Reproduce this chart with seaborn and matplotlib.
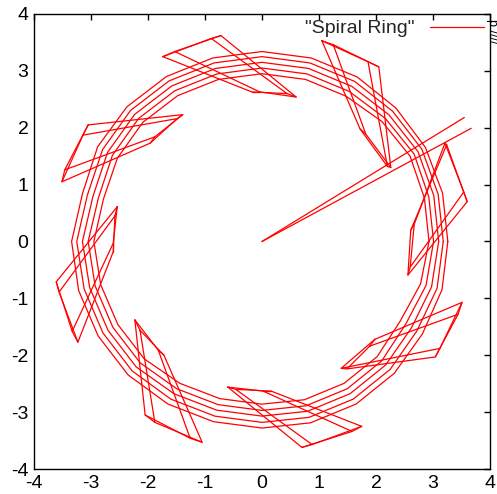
import numpy as np
import pandas as pd
import matplotlib
matplotlib.use("Agg")
import matplotlib.pyplot as plt
import seaborn as sns
from matplotlib.lines import Line2D

# -- data ------------------------------------------------------------
# five lines running round the ring: radius at each angle (deg)
ring_angle = [0, 15, 30, 45, 60, 75, 90, 105, 120, 135, 150, 165,
              180, 195, 210, 225, 240, 255, 270, 285, 300, 315, 330, 345]
ring_r1 = [2.93, 2.95, 3.00, 2.98, 2.95, 2.95, 2.95, 2.95, 2.96, 2.96, 2.93, 2.88,
           2.95, 2.93, 2.92, 2.92, 2.88, 2.86, 2.86, 2.88, 2.88, 2.86, 2.80, 2.88]
ring_r2 = [3.01, 3.03, 3.08, 3.06, 3.05, 3.05, 3.05, 3.05, 3.06, 3.06, 3.03, 2.97,
           3.05, 3.03, 3.02, 3.02, 2.99, 2.97, 2.97, 2.99, 2.99, 2.97, 2.91, 2.98]
ring_r3 = [3.10, 3.12, 3.16, 3.15, 3.15, 3.15, 3.15, 3.15, 3.16, 3.16, 3.13, 3.07,
           3.15, 3.13, 3.12, 3.12, 3.09, 3.07, 3.07, 3.09, 3.09, 3.07, 3.03, 3.08]
ring_r4 = [3.18, 3.20, 3.24, 3.24, 3.25, 3.25, 3.25, 3.25, 3.26, 3.26, 3.23, 3.17,
           3.25, 3.23, 3.22, 3.22, 3.20, 3.18, 3.18, 3.20, 3.20, 3.18, 3.14, 3.18]
ring_r5 = [3.26, 3.28, 3.31, 3.32, 3.34, 3.34, 3.34, 3.34, 3.35, 3.35, 3.33, 3.26,
           3.34, 3.33, 3.32, 3.32, 3.30, 3.28, 3.28, 3.30, 3.30, 3.28, 3.25, 3.27]

# cross sections: two quads (x, y corners) each
sec_top = [[(-1.74, 3.25), (-0.89, 3.57), (0.44, 2.60), (-0.18, 2.63)],
           [(-1.53, 3.34), (-0.72, 3.62), (0.60, 2.54), (-0.04, 2.63)]]
sec_upright = [[(1.05, 3.53), (1.86, 3.16), (2.20, 1.32), (1.72, 1.98)],
               [(1.25, 3.46), (2.05, 3.07), (2.26, 1.30), (1.82, 1.89)]]
sec_right = [[(3.21, 1.73), (3.54, 0.87), (2.60, -0.45), (2.67, 0.30)],
             [(3.24, 1.70), (3.60, 0.70), (2.56, -0.59), (2.61, 0.20)]]
sec_lowright = [[(1.98, -1.72), (3.51, -1.07), (3.12, -1.88), (1.39, -2.23)],
                [(1.89, -1.84), (3.44, -1.28), (3.04, -2.03), (1.49, -2.24)]]
sec_bottom = [[(-0.60, -2.56), (0.02, -2.63), (1.58, -3.34), (0.70, -3.62)],
              [(-0.46, -2.60), (0.16, -2.63), (1.75, -3.25), (0.88, -3.57)]]
sec_lowleft = [[(-2.23, -1.38), (-1.82, -1.91), (-1.26, -3.46), (-2.05, -3.05)],
               [(-2.14, -1.56), (-1.72, -2.00), (-1.05, -3.53), (-1.88, -3.18)]]
sec_left = [[(-2.54, 0.61), (-3.61, -0.71), (-3.33, -1.58), (-2.61, -0.03)],
            [(-2.58, 0.45), (-3.56, -0.89), (-3.23, -1.77), (-2.61, -0.18)]]
sec_upleft = [[(-3.05, 2.05), (-1.39, 2.23), (-1.88, 1.84), (-3.46, 1.26)],
              [(-3.14, 1.87), (-1.49, 2.16), (-1.96, 1.73), (-3.51, 1.05)]]

# the two stray lines from the origin
spoke_x = [[0.0, 3.55], [0.0, 3.67]]
spoke_y = [[0.0, 2.18], [0.0, 1.99]]

# -- build one long table of paths -----------------------------------
rows = []
pid = 0
ang = np.deg2rad(ring_angle + [ring_angle[0]])
for rr in [ring_r1, ring_r2, ring_r3, ring_r4, ring_r5]:
    r = np.array(rr + [rr[0]])
    for k, (xx, yy) in enumerate(zip(r * np.cos(ang), r * np.sin(ang))):
        rows.append((pid, k, xx, yy))
    pid += 1

for sec in [sec_top, sec_upright, sec_right, sec_lowright,
            sec_bottom, sec_lowleft, sec_left, sec_upleft]:
    for quad in sec:
        for k, (xx, yy) in enumerate(quad + [quad[0]]):
            rows.append((pid, k, xx, yy))
        pid += 1
    for pa, pb in zip(sec[0], sec[1]):
        rows.append((pid, 0, pa[0], pa[1]))
        rows.append((pid, 1, pb[0], pb[1]))
        pid += 1

for sx, sy in zip(spoke_x, spoke_y):
    for k in range(2):
        rows.append((pid, k, sx[k], sy[k]))
    pid += 1

df = pd.DataFrame(rows, columns=["path", "order", "x", "y"])

# -- plot ------------------------------------------------------------
sns.set_style("white")
plt.rcParams["font.family"] = ["Liberation Sans", "DejaVu Sans"]
plt.rcParams["axes.unicode_minus"] = False

fig = plt.figure(figsize=(4.97, 4.94), dpi=100)
ax = fig.add_axes([0.0684, 0.0506, 0.9175, 0.9211])

sns.lineplot(data=df, x="x", y="y", units="path", estimator=None,
             sort=False, color="#ff0000", lw=0.9, ax=ax, legend=False)

ax.set_xlim(-4, 4)
ax.set_ylim(-4, 4)
ax.set_xticks(range(-4, 5))
ax.set_yticks(range(-4, 5))
ax.set_xlabel("")
ax.set_ylabel("")
ax.tick_params(direction="in", length=4.5, width=1, top=True, right=True,
               labelsize=14, colors="black", pad=4)
for sp in ax.spines.values():
    sp.set_visible(True)
    sp.set_color("black")
    sp.set_linewidth(1.0)

ax.legend(handles=[Line2D([], [], color="#ff0000", lw=0.9)],
          labels=['"Spiral Ring"'], loc="upper right", frameon=False,
          markerfirst=False, fontsize=14, handlelength=2.8,
          borderaxespad=0.1, handletextpad=0.8, borderpad=0.2)

# clipped rotated label stub at the right edge
fig.text(0.978, 0.962, "p ////", rotation=-90, fontsize=9,
         ha="left", va="top", color="black")

fig.savefig("out.png", dpi=100)
